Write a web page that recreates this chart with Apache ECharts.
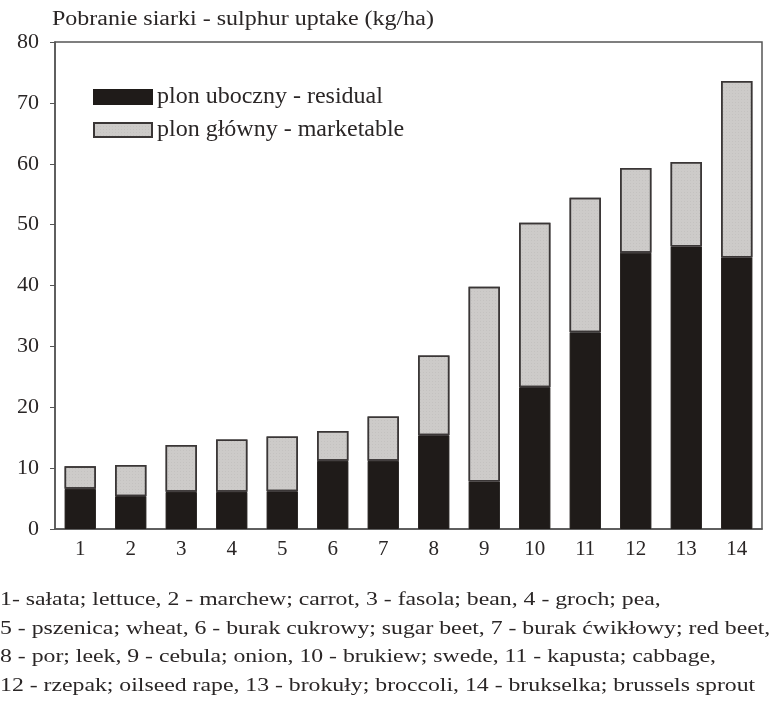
<!DOCTYPE html>
<html>
<head>
<meta charset="utf-8">
<script src="https://cdn.jsdelivr.net/npm/echarts@6/dist/echarts.min.js"></script>
<style>
  html, body { margin: 0; padding: 0; background: #fff; }
  #chart { width: 775px; height: 702px; }
</style>
</head>
<body>
<div id="chart"></div>
<script>
// numery roślin (oś X)
var categories = ['1', '2', '3', '4', '5', '6', '7', '8', '9', '10', '11', '12', '13', '14'];
// plon uboczny - residual (dolna, ciemna część słupka)
var residual = [6.6, 5.4, 6.1, 6.1, 6.2, 11.2, 11.2, 15.4, 7.8, 23.3, 32.3, 45.4, 46.4, 44.6];
// plon główny - marketable (górna, jasna część)
var marketable = [3.7, 5.1, 7.7, 8.6, 9.0, 4.9, 7.3, 13.1, 32.0, 27.0, 22.1, 13.9, 13.9, 29.0];
var yTicks = [0, 80, 10]; // min, max, interval

var footnote = [
    '1- sałata; lettuce, 2 - marchew; carrot, 3 - fasola; bean, 4 - groch; pea,',
    '5 - pszenica; wheat, 6 - burak cukrowy; sugar beet, 7 - burak ćwikłowy; red beet,',
    '8 - por; leek, 9 - cebula; onion, 10 - brukiew; swede, 11 - kapusta; cabbage,',
    '12 - rzepak; oilseed rape, 13 - brokuły; broccoli, 14 - brukselka; brussels sprout'
];

var serif = '"Liberation Serif", "DejaVu Serif", serif';
var ink = '#2a2626';

var myChart = echarts.init(document.getElementById('chart'));

var option = {
    backgroundColor: '#fff',
    animation: false,
    textStyle: { fontFamily: serif, color: ink },
    grid: {
        left: 55,
        top: 42,
        right: 13,
        bottom: 173,
        show: true,
        borderColor: '#555',
        borderWidth: 1.5
    },
    legend: {
        orient: 'vertical',
        left: 88,
        top: 80,
        icon: 'rect',
        itemWidth: 58,
        itemHeight: 14,
        itemGap: 9,
        textStyle: { fontFamily: serif, fontSize: 24, color: ink },
        data: ['plon uboczny - residual', 'plon główny - marketable']
    },
    xAxis: {
        type: 'category',
        data: categories,
        axisLine: { lineStyle: { color: '#555', width: 1.5 } },
        axisTick: { alignWithLabel: true, length: 5, lineStyle: { color: '#555' } },
        axisLabel: { fontFamily: serif, fontSize: 21, color: ink, margin: 10 }
    },
    yAxis: {
        type: 'value',
        min: yTicks[0],
        max: yTicks[1],
        interval: yTicks[2],
        axisLine: { show: true, lineStyle: { color: '#555', width: 1.5 } },
        axisTick: { show: true, length: 5, lineStyle: { color: '#555' } },
        axisLabel: { fontFamily: serif, fontSize: 22, color: ink, margin: 16 },
        splitLine: { show: false }
    },
    series: [
        {
            name: 'plon uboczny - residual',
            type: 'bar',
            stack: 'total',
            barWidth: '62%',
            itemStyle: { color: '#1f1b19', borderColor: '#1f1b19', borderWidth: 1 },
            data: residual
        },
        {
            name: 'plon główny - marketable',
            type: 'bar',
            stack: 'total',
            barWidth: '62%',
            itemStyle: {
                color: '#cdcbc9',
                borderColor: '#3a3636',
                borderWidth: 1.5,
                decal: {
                    symbol: 'rect',
                    symbolSize: 0.6,
                    dashArrayX: [1, 2],
                    dashArrayY: [1, 2],
                    color: 'rgba(120,120,120,0.35)',
                    rotation: 0
                }
            },
            data: marketable
        }
    ],
    graphic: [
        {
            type: 'text',
            left: 52,
            top: 10,
            scaleX: 1.2,
            style: {
                text: 'Pobranie siarki - sulphur uptake (kg/ha)',
                font: '20px ' + serif,
                fill: ink
            }
        },
        {
            type: 'text',
            left: 0,
            top: 586,
            scaleX: 1.25,
            style: {
                text: footnote.join('\n'),
                font: '19px ' + serif,
                lineHeight: 28.5,
                fill: ink
            }
        }
    ]
};

myChart.setOption(option);
</script>
</body>
</html>
